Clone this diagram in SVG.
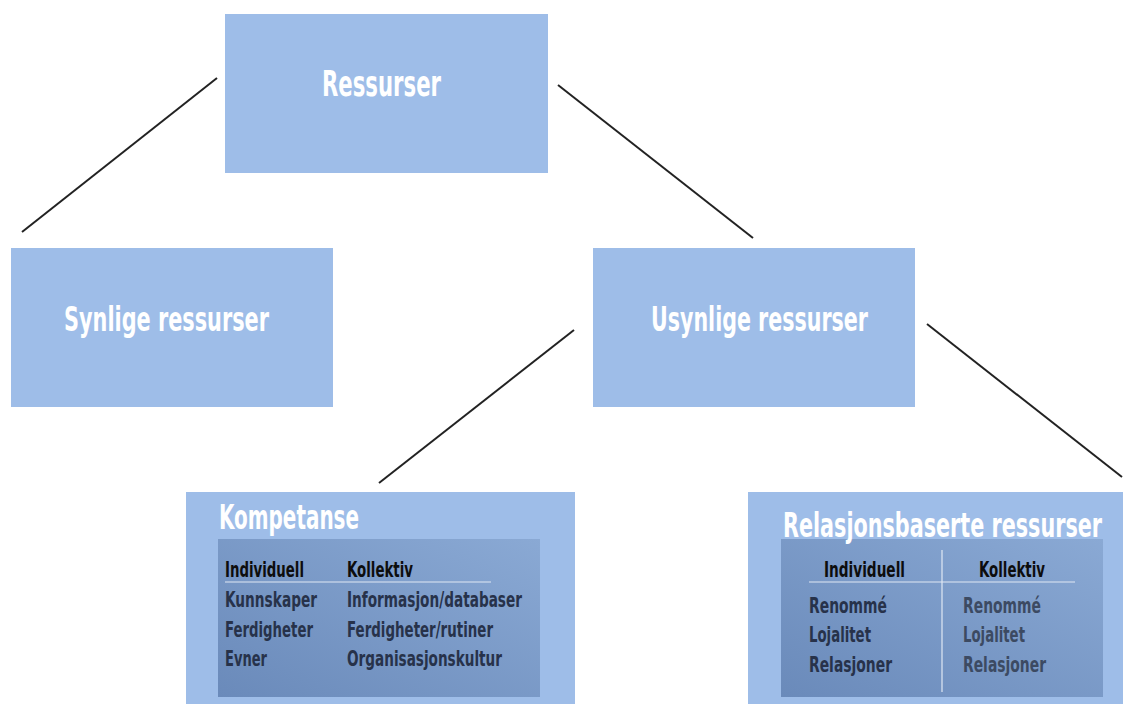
<svg xmlns="http://www.w3.org/2000/svg" width="1123" height="704" viewBox="0 0 1123 704">
<style>
.box{fill:#9ebde8}
.inner{fill:url(#g)}
.t{font-family:"DejaVu Sans Condensed","DejaVu Sans",sans-serif;font-weight:bold}
.w{fill:#ffffff}
.h{fill:#0d0d0d;font-size:22px}
.r{fill:#27324a;font-size:22px}
.r2{fill:#3c4a62;font-size:22px}
.conn line{stroke:#222;stroke-width:2}
.sep{stroke:#dfe8f4;stroke-width:1.2}
</style>
<defs>
<linearGradient id="g" x1="0" y1="1" x2="1" y2="0">
<stop offset="0" stop-color="#6a8aba"/>
<stop offset="1" stop-color="#8aa9d4"/>
</linearGradient>
</defs>
<rect width="1123" height="704" fill="#ffffff"/>
<g class="conn">
<line x1="22" y1="232" x2="217" y2="78"/>
<line x1="558" y1="85" x2="753" y2="238"/>
<line x1="574" y1="330" x2="379" y2="483"/>
<line x1="927" y1="324" x2="1122" y2="477"/>
</g>
<g id="ressurser">
<rect class="box" x="225" y="14" width="323" height="159"/>
<text class="t w" x="322" y="96" font-size="36" textLength="119" lengthAdjust="spacingAndGlyphs">Ressurser</text>
</g>
<g id="synlige">
<rect class="box" x="11" y="248" width="322" height="159"/>
<text class="t w" x="64" y="331" font-size="34" textLength="205" lengthAdjust="spacingAndGlyphs">Synlige ressurser</text>
</g>
<g id="usynlige">
<rect class="box" x="593" y="248" width="322" height="159"/>
<text class="t w" x="651" y="331" font-size="34" textLength="217" lengthAdjust="spacingAndGlyphs">Usynlige ressurser</text>
</g>
<g id="kompetanse">
<rect class="box" x="186" y="492" width="389" height="212"/>
<text class="t w" x="219" y="529" font-size="33" textLength="140" lengthAdjust="spacingAndGlyphs">Kompetanse</text>
<rect class="inner" x="218" y="539" width="322" height="158"/>
<text class="t h" x="225" y="577" textLength="79" lengthAdjust="spacingAndGlyphs">Individuell</text>
<text class="t h" x="347" y="577" textLength="66" lengthAdjust="spacingAndGlyphs">Kollektiv</text>
<line class="sep" x1="225" y1="582" x2="491" y2="582"/>
<text class="t r" x="225" y="607" textLength="92" lengthAdjust="spacingAndGlyphs">Kunnskaper</text>
<text class="t r" x="225" y="637" textLength="88" lengthAdjust="spacingAndGlyphs">Ferdigheter</text>
<text class="t r" x="225" y="666" textLength="42" lengthAdjust="spacingAndGlyphs">Evner</text>
<text class="t r" x="347" y="607" textLength="175" lengthAdjust="spacingAndGlyphs">Informasjon/databaser</text>
<text class="t r" x="347" y="637" textLength="146" lengthAdjust="spacingAndGlyphs">Ferdigheter/rutiner</text>
<text class="t r" x="347" y="666" textLength="155" lengthAdjust="spacingAndGlyphs">Organisasjonskultur</text>
</g>
<g id="relasjon">
<rect class="box" x="748" y="492" width="375" height="212"/>
<rect class="inner" x="781" y="539" width="322" height="158"/>
<text class="t w" x="783" y="537" font-size="33" textLength="319" lengthAdjust="spacingAndGlyphs">Relasjonsbaserte ressurser</text>
<line class="sep" x1="942" y1="550" x2="942" y2="692"/>
<text class="t h" x="824" y="577" textLength="81" lengthAdjust="spacingAndGlyphs">Individuell</text>
<text class="t h" x="979" y="577" textLength="66" lengthAdjust="spacingAndGlyphs">Kollektiv</text>
<line class="sep" x1="809" y1="582" x2="1075" y2="582"/>
<text class="t r" x="809" y="613" textLength="78" lengthAdjust="spacingAndGlyphs">Renommé</text>
<text class="t r" x="809" y="642" textLength="62" lengthAdjust="spacingAndGlyphs">Lojalitet</text>
<text class="t r" x="809" y="672" textLength="83" lengthAdjust="spacingAndGlyphs">Relasjoner</text>
<text class="t r2" x="963" y="613" textLength="78" lengthAdjust="spacingAndGlyphs">Renommé</text>
<text class="t r2" x="963" y="642" textLength="62" lengthAdjust="spacingAndGlyphs">Lojalitet</text>
<text class="t r2" x="963" y="672" textLength="83" lengthAdjust="spacingAndGlyphs">Relasjoner</text>
</g>
</svg>
